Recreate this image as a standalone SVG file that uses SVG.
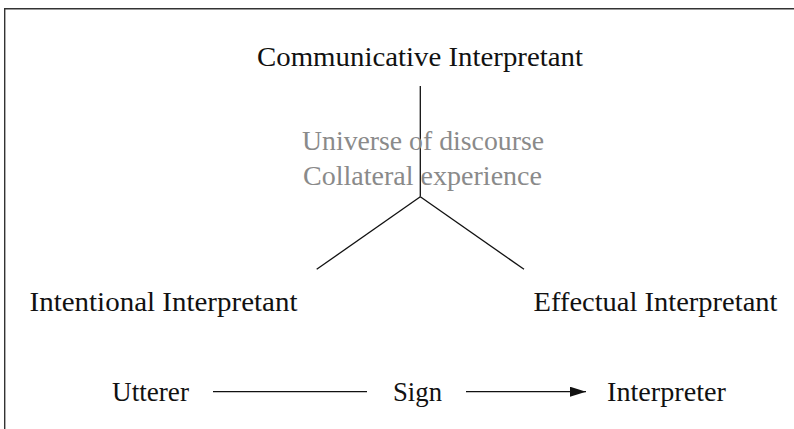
<svg xmlns="http://www.w3.org/2000/svg" width="794" height="429" viewBox="0 0 794 429">
  <defs>
    <style>
      .lbl { font-family: "Liberation Serif", "Times New Roman", serif; font-size: 27.5px; fill: #111; }
      .note { fill: #8a8a8a; }
      .edge { stroke: #111; stroke-width: 1.3; fill: none; }
      .frame { stroke: #333; stroke-width: 1.4; fill: none; }
    </style>
    <marker id="arrow" viewBox="0 0 16 10" refX="16" refY="5" markerWidth="16" markerHeight="10" markerUnits="userSpaceOnUse" orient="auto">
      <path d="M0,0 L16,5 L0,10 Z" fill="#111"/>
    </marker>
  </defs>

  <rect width="794" height="429" fill="#fff"/>
  <path class="frame" d="M4.7,430 V8.7 H795"/>

  <g id="connectors">
    <path class="edge" d="M420.3,86 V196.7"/>
    <path class="edge" d="M420.3,196.7 L316.7,269.3"/>
    <path class="edge" d="M420.3,196.7 L524,269.3"/>
    <path class="edge" d="M213,391.7 H367"/>
    <path class="edge" d="M466,391.7 H586" marker-end="url(#arrow)"/>
  </g>

  <g id="communicative-interpretant">
    <text class="lbl" x="257" y="66" textLength="326" lengthAdjust="spacingAndGlyphs">Communicative Interpretant</text>
  </g>

  <g id="ground">
    <text class="lbl note" x="302" y="149.5" textLength="242" lengthAdjust="spacingAndGlyphs">Universe of discourse</text>
    <text class="lbl note" x="303" y="184.5" textLength="239" lengthAdjust="spacingAndGlyphs">Collateral experience</text>
  </g>

  <g id="intentional-interpretant">
    <text class="lbl" x="29.5" y="310.5" textLength="268" lengthAdjust="spacingAndGlyphs">Intentional Interpretant</text>
  </g>

  <g id="effectual-interpretant">
    <text class="lbl" x="533.5" y="311" textLength="244" lengthAdjust="spacingAndGlyphs">Effectual Interpretant</text>
  </g>

  <g id="utterer">
    <text class="lbl" x="112" y="400.5" textLength="77" lengthAdjust="spacingAndGlyphs">Utterer</text>
  </g>

  <g id="sign">
    <text class="lbl" x="393" y="400.5" textLength="49" lengthAdjust="spacingAndGlyphs">Sign</text>
  </g>

  <g id="interpreter">
    <text class="lbl" x="607" y="400.5" textLength="119" lengthAdjust="spacingAndGlyphs">Interpreter</text>
  </g>
</svg>
